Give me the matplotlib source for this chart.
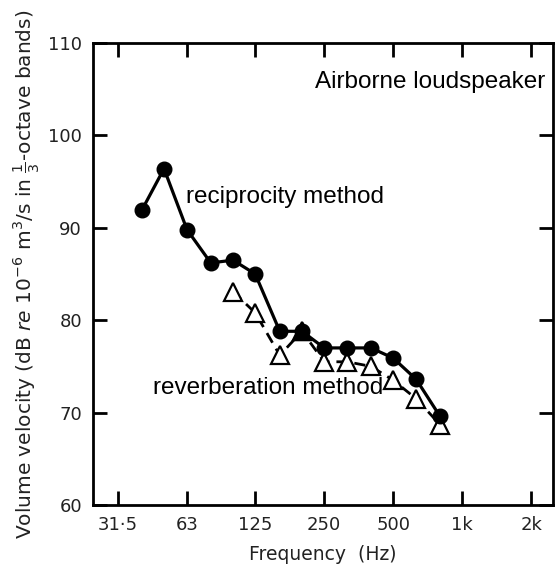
import matplotlib
matplotlib.use("Agg")
import matplotlib.pyplot as plt
import numpy as np

# ---- data ----
recip_freq = [40, 50, 63, 80, 100, 125, 160, 200, 250, 315, 400, 500, 630, 800]
recip_level = [91.9, 96.4, 89.8, 86.2, 86.5, 85.0, 78.8, 78.8, 77.0, 77.0, 77.0, 75.9, 73.6, 69.6]

reverb_freq = [100, 125, 160, 200, 250, 315, 400, 500, 630, 800]
reverb_level = [83.1, 80.8, 76.2, 78.8, 75.5, 75.5, 75.0, 73.5, 71.5, 68.7]

x_ticks = [31.5, 63, 125, 250, 500, 1000, 2000]
x_ticklabels = ["31·5", "63", "125", "250", "500", "1k", "2k"]
y_ticks = [60, 70, 80, 90, 100, 110]
y_ticklabels = ["60", "70", "80", "90", "100", "110"]

label_font = "Liberation Sans"

fig = plt.figure(figsize=(5.58, 5.70), dpi=100)
ax = fig.add_axes([93 / 558, 1 - 505 / 570, (553 - 93) / 558, (505 - 43) / 570])

ax.set_xscale("log")
ax.set_xlim(24.5, 2490)
ax.set_ylim(60, 110)

# reverberation method (open triangles, dashed)
ax.plot(reverb_freq, reverb_level, color="black", lw=2.0, ls=(0, (4, 2.5)),
        marker="^", ms=12.5, mfc="white", mec="black", mew=1.6, zorder=3)
# reciprocity method (filled circles, solid)
ax.plot(recip_freq, recip_level, color="black", lw=2.3, ls="-",
        marker="o", ms=10.5, mfc="black", mec="black", zorder=4)
# where the two coincide the triangle reads as solid
rf = np.array(reverb_freq)
rl = np.array(reverb_level)
same = np.array([any(f == g and abs(l - m) < 0.05 for g, m in zip(recip_freq, recip_level))
                 for f, l in zip(rf, rl)])
ax.plot(rf[same], rl[same], ls="none", marker="^", ms=13, mfc="black", mec="black", zorder=5)

# axes styling
for s in ax.spines.values():
    s.set_linewidth(2.0)
ax.set_xticks(x_ticks)
ax.set_xticklabels(x_ticklabels)
ax.xaxis.set_minor_locator(matplotlib.ticker.NullLocator())
ax.set_yticks(y_ticks)
ax.set_yticklabels(y_ticklabels)
ax.tick_params(axis="both", which="major", direction="in", length=10, width=2.0,
               top=True, right=True, labelsize=13, pad=8, labelcolor="#222222")

ax.set_xlabel("Frequency  (Hz)", fontsize=13.5, labelpad=8, color="#222222")
ax.set_ylabel(r"Volume velocity (dB $\it{re}$ 10$^{-6}$ m$^3$/s in $\frac{1}{3}$-octave bands)",
              fontsize=14.5, labelpad=4, color="#222222")

ax.annotate("reciprocity method", xy=(186 / 558, 1 - 197 / 570), xycoords="figure fraction",
            ha="left", va="center", fontsize=17.5, family=label_font)
ax.annotate("reverberation method", xy=(153 / 558, 1 - 388 / 570), xycoords="figure fraction",
            ha="left", va="center", fontsize=17.5, family=label_font)
ax.annotate("Airborne loudspeaker", xy=(545 / 558, 1 - 82 / 570), xycoords="figure fraction",
            ha="right", va="center", fontsize=17.5, family=label_font)

fig.savefig("out.png", dpi=100)
